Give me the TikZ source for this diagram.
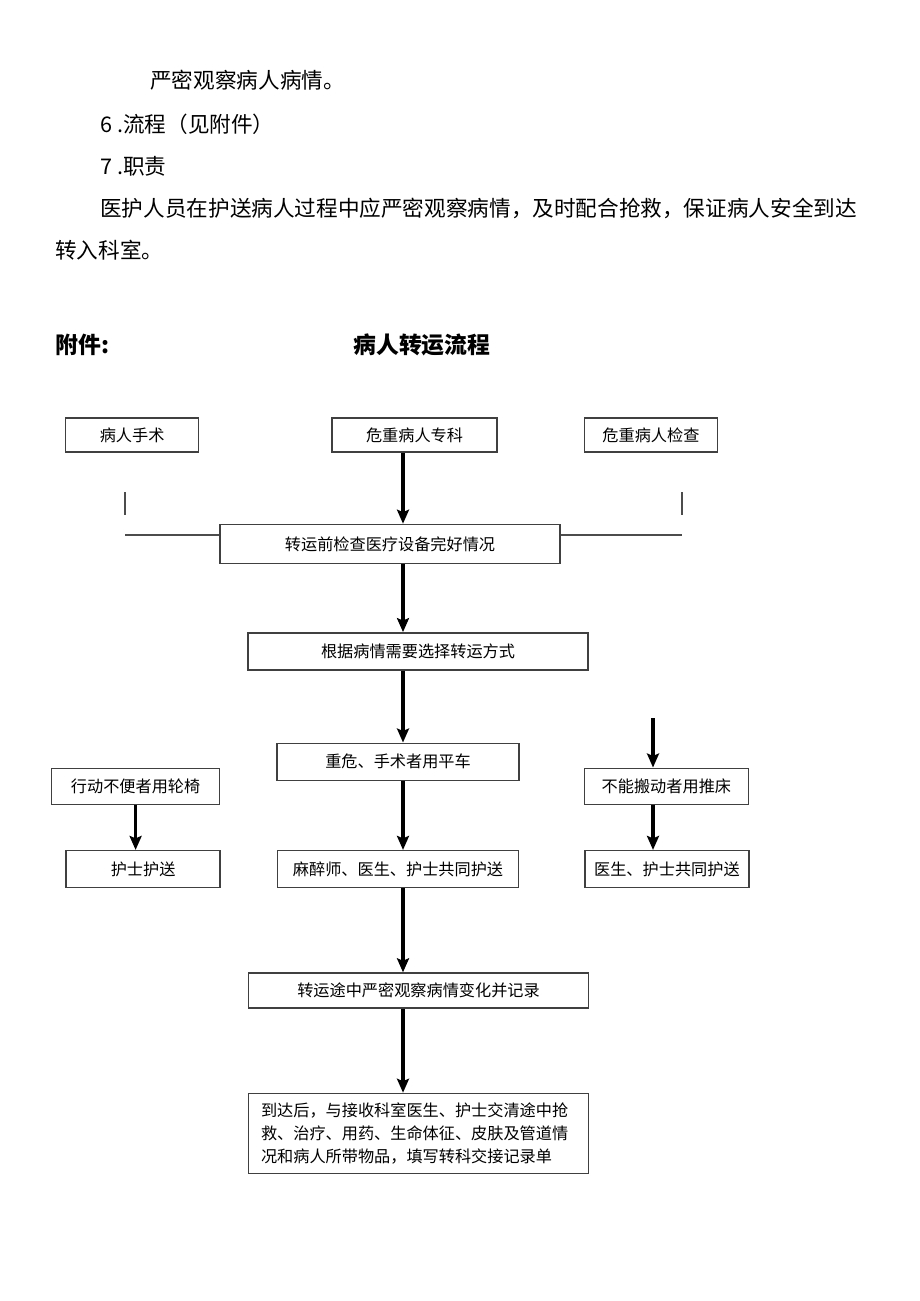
\documentclass[tikz,border=0pt]{standalone}
\usepackage{fontspec}
\setmainfont{Noto Sans CJK SC}
\usetikzlibrary{positioning, arrows.meta}
\tikzstyle{box} = [rectangle, minimum height=0.74cm, text centered, draw=black!75, line width=0.8pt, font=\fontsize{9.2}{13}\selectfont, inner sep=2pt]
\tikzstyle{arrow} = [line width=1.8pt, ->, >={Stealth[length=2.8mm,width=2.4mm,inset=0.5mm]}]
\tikzstyle{line} = [draw=black!70, line width=0.9pt]
\tikzstyle{para} = [anchor=west, inner sep=0pt, font=\fontsize{12.3}{14}\selectfont]
\tikzstyle{heading} = [anchor=west, inner sep=0pt, font=\fontsize{13}{15}\selectfont\bfseries]

\begin{document}
\begin{tikzpicture}[node distance=1.42cm]
        \useasboundingbox (0,0) rectangle (18.4,-26.02);
        % text above the chart
        \node (l1) [para] at (3.0,-1.6) {严密观察病人病情。};
        \node (l2) [para] at (2.0,-2.48) {6 .流程（见附件）};
        \node (l3) [para] at (2.0,-3.32) {7 .职责};
        \node (l4) [para] at (2.0,-4.16) {医护人员在护送病人过程中应严密观察病情，及时配合抢救，保证病人安全到达};
        \node (l5) [para] at (1.1,-5.0) {转入科室。};
        \node (att) [heading] at (1.1,-6.9) {附件:};
        \node (title) [heading] at (7.06,-6.9) {病人转运流程};
        % chart
        \coordinate (spine) at (8.06,0);
        \node (dept) [box, minimum width=3.3cm, minimum height=0.68cm] at (8.29,-8.70) {危重病人专科};
        \node (surg) [box, minimum width=2.66cm, minimum height=0.68cm, left=2.64cm of dept] {病人手术};
        \node (exam) [box, minimum width=2.66cm, minimum height=0.68cm, right=1.72cm of dept] {危重病人检查};
        \node (pre) [box, minimum width=6.8cm, minimum height=0.78cm, below=1.42cm of dept, xshift=-0.49cm] {转运前检查医疗设备完好情况};
        \node (mode) [box, minimum width=6.8cm, below=1.36cm of pre, xshift=0.56cm] {根据病情需要选择转运方式};
        \node (flat) [box, minimum width=4.84cm, below=1.44cm of mode, xshift=-0.4cm] {重危、手术者用平车};
        \node (team) [box, minimum width=4.82cm, below=1.38cm of flat] {麻醉师、医生、护士共同护送};
        \node (chair) [box, minimum width=3.36cm, minimum height=0.72cm, left=1.12cm of flat, yshift=-0.49cm] {行动不便者用轮椅};
        \node (nurse) [box, minimum width=3.08cm, left=1.12cm of team] {护士护送};
        \node (bed) [box, minimum width=3.28cm, minimum height=0.72cm, right=1.28cm of flat, yshift=-0.49cm] {不能搬动者用推床};
        \node (both) [box, minimum width=3.28cm, right=1.30cm of team] {医生、护士共同护送};
        \node (watch) [box, minimum width=6.8cm, minimum height=0.70cm, below=1.68cm of team, xshift=0.41cm] {转运途中严密观察病情变化并记录};
        \node (arrive) [box, minimum width=6.8cm, minimum height=1.6cm, below=1.68cm of watch, text width=6.3cm, inner xsep=0.25cm, align=left] {到达后，与接收科室医生、护士交清途中抢\\救、治疗、用药、生命体征、皮肤及管道情\\况和病人所带物品，填写转科交接记录单};
        \coordinate (lstub) at (2.5,-9.84);
        \coordinate (rstub) at (13.64,-9.84);
        \coordinate (lend) at (2.5,-10.7);
        \coordinate (rend) at (13.64,-10.7);
        \coordinate (rtop) at (13.06,-14.36);
        \draw [line] (lstub) -- ++(0,-0.46);
        \draw [line] (rstub) -- ++(0,-0.46);
        \draw [line, line width=1.1pt] (lend) -- (lend -| pre.west);
        \draw [line, line width=1.1pt] (pre.east |- rend) -- (rend);
        \draw [arrow] (dept.south -| spine) -- (pre.north -| spine);
        \draw [arrow] (pre.south -| spine) -- (mode.north -| spine);
        \draw [arrow] (mode.south -| spine) -- (flat.north -| spine);
        \draw [arrow] (flat.south -| spine) -- (team.north -| spine);
        \draw [arrow] (team.south -| spine) -- (watch.north -| spine);
        \draw [arrow] (watch.south -| spine) -- (arrive.north -| spine);
        \draw [arrow] (chair.south) -- (chair.south |- nurse.north);
        \draw [arrow] (rtop) -- (rtop |- bed.north);
        \draw [arrow] (rtop |- bed.south) -- (rtop |- both.north);

      \end{tikzpicture}
\end{document}
